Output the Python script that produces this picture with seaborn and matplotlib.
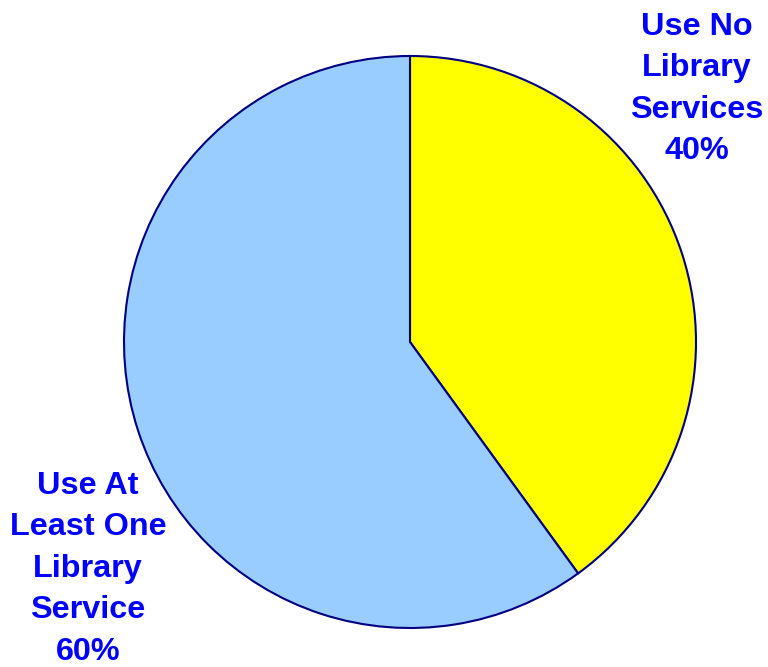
import matplotlib
matplotlib.use("Agg")
from matplotlib import pyplot as plt
import seaborn as sns

# data
categories = ["Use No\nLibrary\nServices", "Use At\nLeast One\nLibrary\nService"]
shares = [40, 60]
slice_colors = ["#FFFF00", "#99CCFF"]
label_pos = [(1.003, 0.885), (-1.126, -0.792)]

sns.set_theme(style="white")
plt.rcParams['font.family'] = ['Liberation Sans', 'DejaVu Sans']

fig = plt.figure(figsize=(7.68, 6.67), dpi=100)
ax = fig.add_axes([124 / 768, 39 / 667, 572 / 768, 572 / 667])

ax.pie(shares, colors=slice_colors, startangle=90, counterclock=False,
       radius=1, wedgeprops=dict(edgecolor="#000080", linewidth=1.5))
ax.set_xlim(-1.0, 1.0)
ax.set_ylim(-1.0, 1.0)
ax.axis("off")

for cat, val, (x, y) in zip(categories, shares, label_pos):
    ax.text(x, y, f"{cat}\n{val}%", ha="center", va="center",
            fontsize=23.3, fontweight="bold", color="#0000FF",
            linespacing=1.5, clip_on=False)

fig.savefig("out.png", dpi=100)
